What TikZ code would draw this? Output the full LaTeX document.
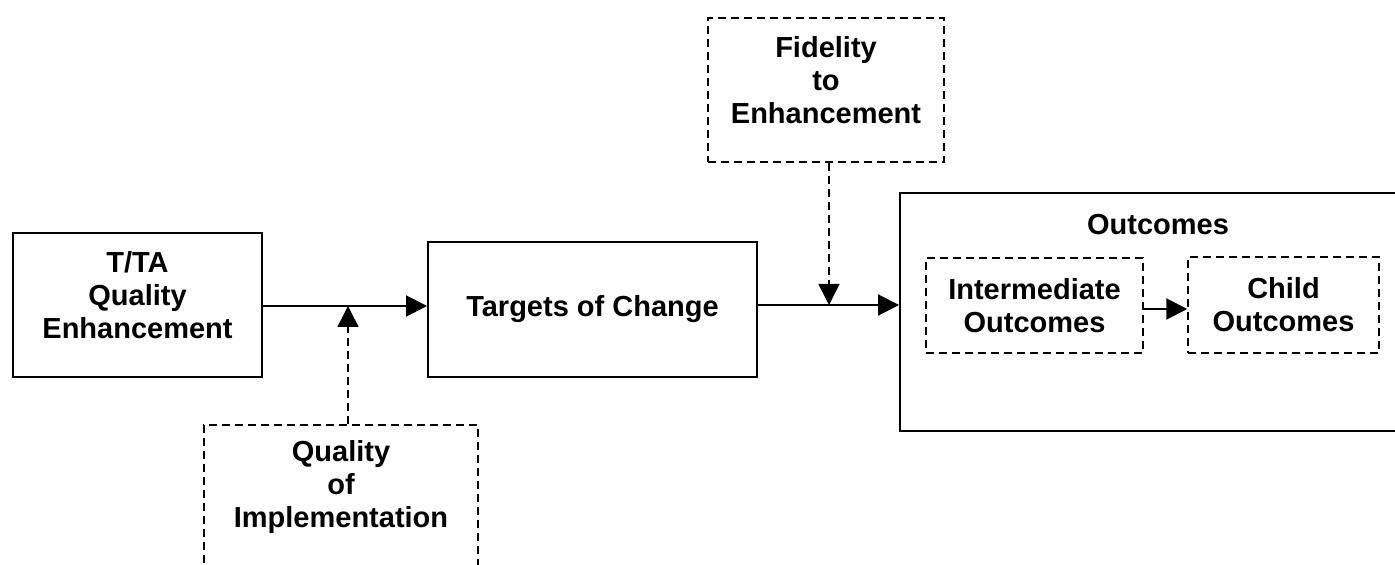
\documentclass[tikz,border=0pt]{standalone}
\usepackage{fontspec}
\setmainfont{Liberation Sans}
\usetikzlibrary{arrows.meta}

\tikzset{
  >={Triangle[length=10.5pt,width=10.5pt]},
  solidbox/.style={draw, line width=1pt, align=center, inner sep=0pt},
  dashbox/.style={draw, line width=0.75pt, dash pattern=on 4pt off 2.5pt, align=center, inner sep=0pt},
  link/.style={->, line width=1pt},
  dashlink/.style={->, line width=0.75pt, dash pattern=on 4pt off 2.5pt},
}

\begin{document}
\begin{tikzpicture}[x=0.5pt, y=-0.5pt]
        \fontsize{14.5}{16.5}\selectfont\bfseries
        \clip (0,0) rectangle (1395,565);

        % main boxes
        \node[solidbox, minimum width=124.5pt, minimum height=72pt] (tta) at (137.5,305) {};
        \node[align=center] (ttatext) at (137.5,295) {T/TA\\Quality\\Enhancement};
        \node[solidbox, minimum width=164.5pt, minimum height=67.5pt] (toc) at (592.5,309.5) {Targets of Change};
        \node[solidbox, minimum width=250pt, minimum height=119pt] (out) at (1150,312) {};
        \node (outtitle) at (1158,225) {Outcomes};

        % outcome parts
        \node[dashbox, minimum width=108.5pt, minimum height=47.5pt] (inter) at (1034.5,305.5) {Intermediate\\Outcomes};
        \node[dashbox, minimum width=95.5pt, minimum height=48pt] (child) at (1283.5,305) {Child\\Outcomes};

        % moderators
        \node[dashbox, minimum width=118pt, minimum height=72pt] (fid) at (826,90) {};
        \node[align=center] (fidtext) at (826,80.5) {Fidelity\\to\\Enhancement};
        \node[dashbox, minimum width=137pt, minimum height=90pt] (qual) at (341,515) {};
        \node[align=center] (qualtext) at (341,487) {Quality\\of\\Implementation};

        % join points on the arrows
        \coordinate (qjoin) at (348,306);
        \coordinate (fjoin) at (829,305);

        % arrows
        \draw[link] (tta.east |- qjoin) -- (qjoin -| toc.west);
        \draw[link] (toc.east |- fjoin) -- (fjoin -| out.west);
        \draw[link] (inter.east |- 0,309) -- (child.west |- 0,309);

        \draw[dashlink] (qjoin |- qual.north) -- (qjoin);
        \draw[dashlink] (fjoin |- fid.south) -- (fjoin);

\end{tikzpicture}
\end{document}
